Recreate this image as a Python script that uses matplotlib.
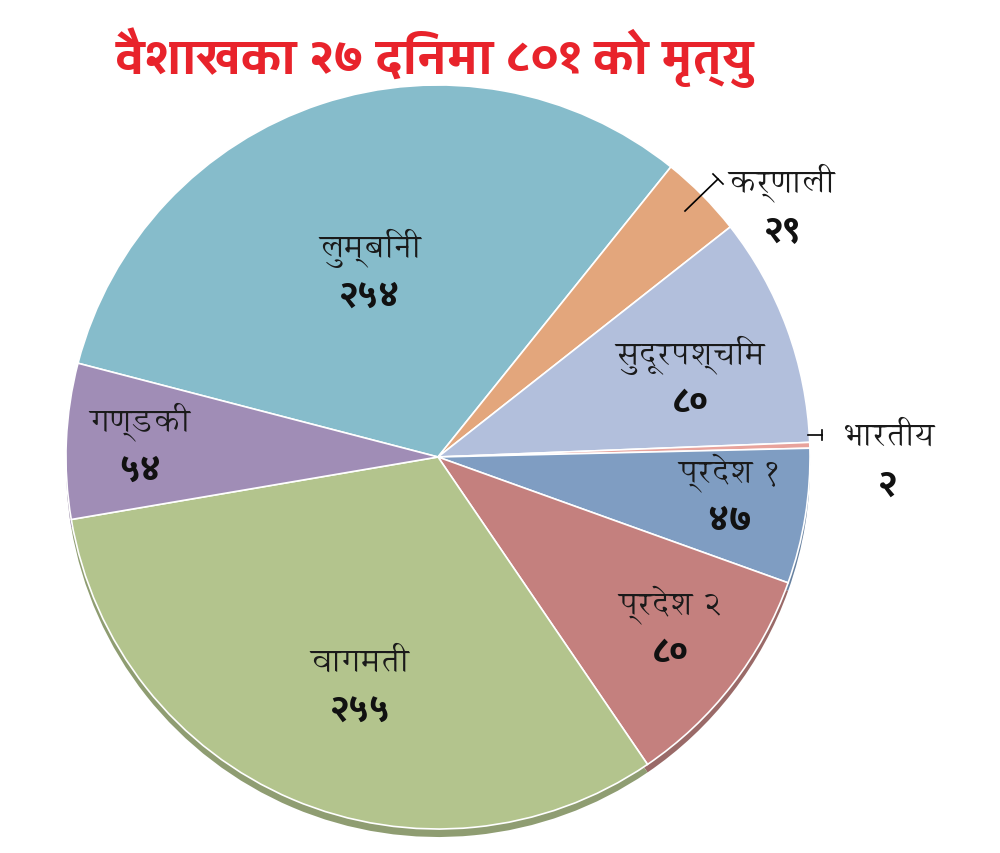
import matplotlib
matplotlib.use('Agg')
import matplotlib.pyplot as plt

names = ['लुम्बिनी', 'कर्णाली', 'सुदूरपश्चिम', 'भारतीय', 'प्रदेश १', 'प्रदेश २', 'वागमती', 'गण्डकी']
values = [254, 29, 80, 2, 47, 80, 255, 54]
value_labels = ['२५४', '२९', '८०', '२', '४७', '८०', '२५५', '५४']
colors = ['#86bccb', '#e3a67c', '#b2bfdc', '#e8a39c', '#7f9dc2', '#c4807e', '#b3c48d', '#a08db6']
shade = ['#6f9aa6', '#b88662', '#8f9ab2', '#b98581', '#66809f', '#9a6a68', '#8f9d72', '#826f93']
title = 'वैशाखका २७ दिनमा ८०१ को मृत्यु'

title_font = ['Yantramanav', 'Noto Sans Devanagari', 'DejaVu Sans']
label_font = ['Annapurna SIL', 'Noto Sans Devanagari', 'DejaVu Sans']
number_font = ['Mukta', 'Noto Sans Devanagari', 'DejaVu Sans']

fig = plt.figure(figsize=(10, 8.54), dpi=100)
ax = fig.add_axes([0, 0, 1, 1])

H = 854
cx, cy, r = 438, H - 458, 372
explode = [0.01, 0.025, 0.01, 0.01, 0.01, 0.04, 0.01, 0.01]
# darker copy underneath gives the 3D edge
ax.pie(values, colors=shade, startangle=165.4, counterclock=False, center=(cx, cy - 8), radius=r,
       explode=explode, wedgeprops=dict(linewidth=0), frame=True)
ax.pie(values, colors=colors, startangle=165.4, counterclock=False, center=(cx, cy), radius=r,
       explode=explode, wedgeprops=dict(edgecolor='white', linewidth=1.2), frame=True)
ax.set_xlim(0, 1000)
ax.set_ylim(0, H)
ax.set_aspect('equal')
ax.axis('off')

ax.text(435, H - 58, title, color='#e8232b', fontsize=37, fontweight='bold', ha='center', va='center',
        family=title_font)

label_pos = [(370, 248), (782, 183), (690, 355), (888, 437), (730, 473), (670, 605), (360, 663), (140, 422)]
for (x, y), n, v in zip(label_pos, names, value_labels):
    ax.text(x, H - y, n, fontsize=24, ha='center', va='center', color='#1a1a1a', family=label_font)
    ax.text(x, H - y - 49, v, fontsize=25, fontweight=800, ha='center', va='center', color='#111111',
            family=number_font)

# leader lines
ax.plot([685, 718], [H - 212, H - 180], color='black', lw=1.2)
ax.plot([713, 723], [H - 175, H - 185], color='black', lw=1.2)
ax.plot([808, 822], [H - 436, H - 436], color='black', lw=1.2)
ax.plot([822, 822], [H - 431, H - 441], color='black', lw=1.2)

fig.savefig('out.png', dpi=100)
